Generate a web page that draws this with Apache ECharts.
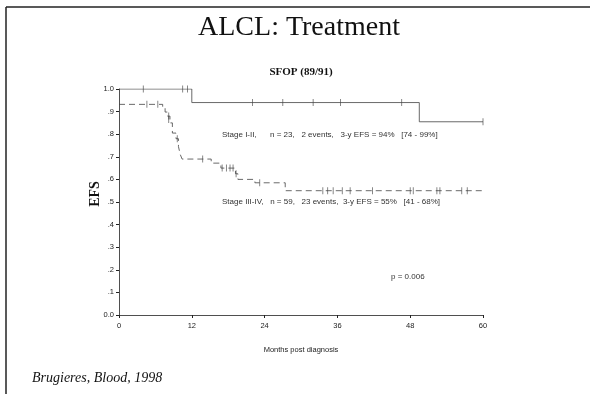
<!DOCTYPE html>
<html>
<head>
<meta charset="utf-8">
<script src="https://cdn.jsdelivr.net/npm/echarts@6/dist/echarts.min.js"></script>
<style>
  html, body { margin: 0; padding: 0; background: #fff; }
  #main { width: 590px; height: 394px; }
</style>
</head>
<body>
<div id="main"></div>
<script>
  // x ticks (months) and y ticks
  var monthTicks = [0, 12, 24, 36, 48, 60];
  var efsTicks = ['0.0', '.1', '.2', '.3', '.4', '.5', '.6', '.7', '.8', '.9', '1.0'];

  // Stage I-II : [month, EFS] at each drop
  var stage12Steps = [[0, 1.0], [12, 0.94], [49.5, 0.855], [60, 0.855]];
  var stage12Censored = [[4, 1.0], [10.5, 1.0], [11.3, 1.0], [22, 0.94], [27, 0.94], [32, 0.94], [36.5, 0.94], [46.6, 0.94], [60, 0.855]];

  // Stage III-IV
  var stage34Steps = [
    [0, 0.932], [7.2, 0.915], [7.6, 0.898], [8.0, 0.88], [8.4, 0.85], [8.8, 0.805],
    [9.4, 0.78], [9.8, 0.745], [10.1, 0.71], [10.4, 0.69], [15.2, 0.672], [16.8, 0.65],
    [19.2, 0.625], [19.6, 0.60], [22.4, 0.585], [27.4, 0.55], [60, 0.55]
  ];
  var stage34Censored = [
    [4.6, 0.932], [6.4, 0.932], [8.2, 0.88], [8.2, 0.865], [9.6, 0.78], [13.8, 0.69],
    [17.0, 0.65], [17.7, 0.65], [18.3, 0.65], [18.8, 0.65], [19.3, 0.625], [23.2, 0.585],
    [33.6, 0.55], [34.4, 0.55], [35.3, 0.55], [36.8, 0.55], [38.1, 0.55], [41.8, 0.55],
    [48.0, 0.55], [48.5, 0.55], [52.4, 0.55], [52.9, 0.55], [56.5, 0.55], [57.4, 0.55]
  ];

  var myChart = echarts.init(document.getElementById('main'), null, {renderer: 'canvas'});

  var lineCol = '#444';
  var txt = {fontFamily: 'Liberation Sans, Arial', fontSize: 8, fill: '#333'};

  myChart.setOption({
    animation: false,
    backgroundColor: '#fff',
    grid: {left: 119, right: 107, top: 89, bottom: 79},
    xAxis: {
      type: 'value', min: 0, max: 60, interval: 12,
      name: 'Months post diagnosis', nameLocation: 'middle', nameGap: 31,
      nameTextStyle: {fontFamily: 'Liberation Sans, Arial', fontSize: 7.5, color: '#222'},
      axisLine: {lineStyle: {color: '#222', width: 0.8}},
      axisTick: {show: true, length: 3, lineStyle: {color: '#222'}},
      axisLabel: {
        fontFamily: 'Liberation Sans, Arial', fontSize: 7.5, color: '#222', margin: 7,
        formatter: function (v) { return monthTicks.indexOf(v) >= 0 ? String(v) : ''; }
      },
      splitLine: {show: false}
    },
    yAxis: {
      type: 'value', min: 0, max: 1, interval: 0.1,
      axisLine: {show: true, lineStyle: {color: '#222', width: 0.8}},
      axisTick: {show: true, length: 3, lineStyle: {color: '#222'}},
      axisLabel: {
        fontFamily: 'Liberation Sans, Arial', fontSize: 7.5, color: '#222', margin: 5,
        formatter: function (v) { return efsTicks[Math.round(v * 10)]; }
      },
      splitLine: {show: false}
    },
    series: [
      {
        name: 'Stage I-II', type: 'line', step: 'end', data: stage12Steps,
        symbol: 'none', lineStyle: {color: lineCol, width: 0.8}
      },
      {
        name: 'Stage III-IV', type: 'line', step: 'end', data: stage34Steps,
        symbol: 'none', lineStyle: {color: lineCol, width: 0.8, type: [6, 4]}
      },
      {
        type: 'scatter', data: stage12Censored.concat(stage34Censored),
        symbol: 'rect', symbolSize: [0.8, 7],
        itemStyle: {color: lineCol}
      }
    ],
    graphic: [
      // slide frame
      {type: 'line', shape: {x1: 6, y1: 7, x2: 590, y2: 7}, style: {stroke: '#222', lineWidth: 1.5}},
      {type: 'line', shape: {x1: 6, y1: 7, x2: 6, y2: 394}, style: {stroke: '#222', lineWidth: 1.5}},
      {type: 'text', x: 299, y: 14,
        style: {text: 'ALCL: Treatment', textAlign: 'center', fontFamily: 'Liberation Serif, Times New Roman', fontSize: 28, fill: '#111'}},
      {type: 'text', x: 301, y: 67,
        style: {text: 'SFOP (89/91)', textAlign: 'center', fontFamily: 'Liberation Serif, Times New Roman', fontSize: 11, fontWeight: 'bold', fill: '#111'}},
      {type: 'text', x: 95, y: 194, rotation: Math.PI / 2,
        style: {text: 'EFS', textAlign: 'center', textVerticalAlign: 'middle', fontFamily: 'Liberation Serif, Times New Roman', fontSize: 14, fontWeight: 'bold', fill: '#111'}},
      {type: 'text', x: 222, y: 131,
        style: Object.assign({text: 'Stage I-II,      n = 23,   2 events,   3-y EFS = 94%   [74 - 99%]'}, txt)},
      {type: 'text', x: 222, y: 198,
        style: Object.assign({text: 'Stage III-IV,   n = 59,   23 events,  3-y EFS = 55%   [41 - 68%]'}, txt)},
      {type: 'text', x: 391, y: 273,
        style: Object.assign({text: 'p = 0.006'}, txt)},
      {type: 'text', x: 32, y: 371,
        style: {text: 'Brugieres, Blood, 1998', fontFamily: 'Liberation Serif, Times New Roman', fontSize: 14, fontStyle: 'italic', fill: '#111'}}
    ]
  });
</script>
</body>
</html>
